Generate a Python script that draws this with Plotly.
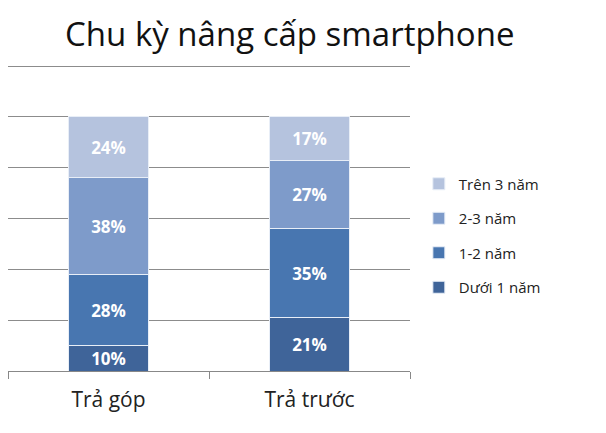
import plotly.graph_objects as go

categories = ["Trả góp", "Trả trước"]
series_names = ["Dưới 1 năm", "1-2 năm", "2-3 năm", "Trên 3 năm"]
duoi_1_nam = [10, 21]
mot_hai_nam = [28, 35]
hai_ba_nam = [38, 27]
tren_3_nam = [24, 17]
colors = ["#3F6499", "#4876B0", "#7E9BCA", "#B5C3DE"]

fig = go.Figure()
all_vals = [duoi_1_nam, mot_hai_nam, hai_ba_nam, tren_3_nam]
for i, (name, vals, col) in enumerate(zip(series_names, all_vals, colors)):
    fig.add_trace(go.Bar(
        x=categories, y=vals, name=name,
        marker=dict(color=col, line=dict(color="#E8EEF7", width=1)),
        text=[f"{v}%" for v in vals], textposition="inside",
        insidetextanchor="middle",
        textfont=dict(family="Open Sans", size=17, color="white", weight="bold"),
        legendgroup=name, legendrank=len(series_names) - i,
    ))

# page is drawn with an 8px body margin, margins below compensate for it
fig.update_layout(
    width=606, height=433,
    barmode="stack", bargap=0.6,
    uniformtext=dict(minsize=17, mode="show"),
    plot_bgcolor="white", paper_bgcolor="white",
    margin=dict(l=0, r=204, t=57, b=70),
    title=dict(text="Chu kỳ nâng cấp smartphone", x=0.465, xanchor="center",
               y=0.94, yanchor="middle",
               font=dict(family="Open Sans", size=33, color="#111111")),
    legend=dict(x=1.022, y=0.665, xanchor="left", yanchor="top",
                traceorder="grouped", tracegroupgap=12,
                font=dict(family="Open Sans", size=15, color="#222222")),
    showlegend=True,
)
fig.update_xaxes(showline=True, linecolor="#888888", linewidth=1,
                 ticks="outside", tickson="boundaries", ticklen=7, tickcolor="#888888",
                 ticklabelstandoff=10,
                 tickfont=dict(family="Open Sans", size=21, color="#222222"))
fig.update_yaxes(range=[0, 120.4], tick0=0, dtick=20, showgrid=True, gridcolor="#8C8C8C",
                 gridwidth=1, showticklabels=False, zeroline=False)

fig.write_html("out.html")
